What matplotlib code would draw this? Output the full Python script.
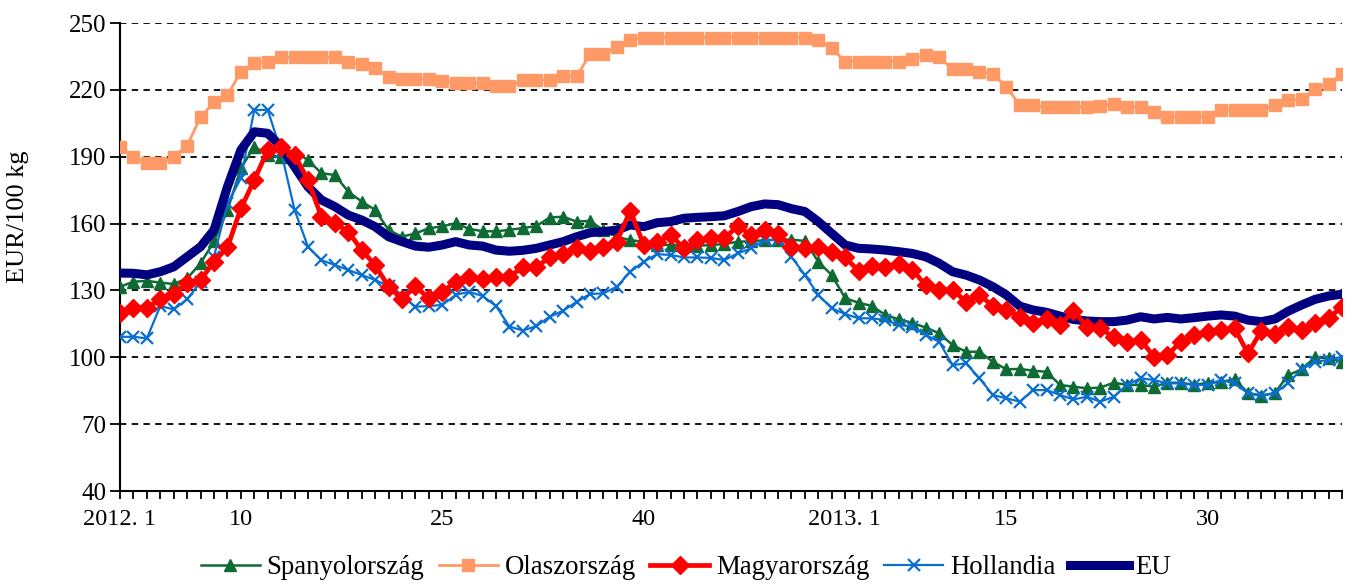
import numpy as np
import matplotlib.pyplot as plt
from matplotlib.transforms import ScaledTranslation

# weekly prices, 2012 week 1 .. 2013 week 40 (92 weeks)
weeks = list(range(1, 53)) + list(range(1, 41))
tick_pos = [0, 9, 24, 39, 52, 66, 81]
tick_labels = ['2012. 1', '10', '25', '40', '2013. 1', '15', '30']

spanyol = [131.7, 133.9, 134.3, 133.5, 132.9, 135.4, 142.2, 152.0, 166.0, 184.8,
           194.5, 190.8, 190.0, 192.3, 188.5, 182.6, 181.8, 174.3, 169.9, 166.1,
           157.1, 154.1, 155.6, 157.9, 158.8, 160.1, 157.6, 156.6, 156.5, 157.2,
           158.0, 158.9, 162.7, 163.1, 160.9, 161.2, 157.0, 154.0, 152.6, 151.8,
           150.5, 150.4, 150.0, 150.0, 150.4, 150.8, 151.9, 152.0, 152.6, 152.8,
           152.8, 152.2, 142.9, 136.9, 126.5, 124.5, 123.0, 119.0, 117.0, 115.5,
           113.3, 110.8, 105.5, 102.5, 102.5, 98.0, 94.6, 94.8, 94.0, 93.5,
           87.6, 86.8, 86.1, 86.4, 88.6, 87.6, 87.6, 86.8, 88.6, 88.6,
           87.6, 88.6, 89.0, 90.1, 84.1, 82.6, 84.1, 92.0, 94.6, 100.0,
           99.6, 98.0]

olasz = [194.4, 190.0, 187.0, 187.0, 190.0, 195.0, 207.8, 214.4, 217.7, 228.0,
         232.0, 232.7, 234.6, 234.6, 234.6, 234.6, 234.6, 232.3, 231.4, 229.9,
         225.9, 224.9, 224.9, 224.9, 224.0, 223.0, 223.0, 223.0, 221.7, 221.6,
         224.4, 224.4, 224.4, 226.0, 226.0, 236.0, 236.0, 239.4, 242.4, 243.4,
         243.4, 243.4, 243.4, 243.4, 243.4, 243.4, 243.4, 243.4, 243.4, 243.4,
         243.4, 243.4, 242.4, 238.6, 232.7, 232.7, 232.7, 232.7, 232.7, 234.0,
         235.6, 234.9, 229.2, 229.2, 228.2, 227.1, 221.4, 213.2, 213.2, 212.2,
         212.2, 212.5, 212.5, 212.9, 213.5, 212.2, 212.2, 210.2, 208.0, 208.0,
         208.0, 208.0, 211.0, 211.0, 211.0, 211.0, 213.2, 215.3, 215.8, 220.6,
         222.8, 227.1]

magyar = [120.0, 122.3, 122.3, 126.0, 128.4, 133.2, 134.7, 142.9, 149.3, 166.8,
          179.5, 193.0, 194.5, 190.8, 179.5, 163.1, 160.1, 156.4, 148.1, 141.4,
          131.7, 126.2, 131.8, 126.5, 129.4, 133.9, 136.2, 135.1, 136.2, 136.2,
          140.6, 140.3, 145.1, 146.3, 148.9, 147.9, 149.6, 151.9, 165.8, 150.4,
          151.9, 154.9, 148.9, 152.6, 153.4, 153.4, 158.9, 154.9, 157.1, 155.3,
          149.6, 148.9, 149.6, 147.4, 144.8, 138.8, 140.9, 140.3, 141.9, 139.2,
          132.4, 130.2, 130.4, 124.9, 128.0, 123.0, 121.2, 118.2, 115.3, 117.0,
          114.5, 120.9, 113.8, 113.0, 109.0, 107.0, 107.8, 100.3, 101.0, 107.0,
          110.0, 111.5, 112.2, 113.0, 101.8, 112.0, 110.4, 113.8, 112.2, 115.3,
          117.5, 122.7]

holland = [109.2, 109.2, 108.5, 123.0, 121.5, 126.0, 133.9, 145.2, 169.1, 180.3,
           211.0, 211.0, 192.3, 166.1, 149.6, 143.6, 141.4, 139.2, 136.9, 134.7,
           132.0, 127.5, 122.7, 123.0, 123.5, 128.0, 129.4, 127.5, 123.0, 113.8,
           112.0, 114.0, 118.2, 120.9, 124.9, 128.4, 128.7, 131.7, 138.4, 142.9,
           146.3, 145.9, 144.8, 144.8, 144.6, 143.6, 146.6, 148.9, 152.6, 152.6,
           145.1, 136.9, 128.0, 122.0, 119.4, 117.5, 117.5, 116.7, 114.5, 113.8,
           110.0, 107.0, 96.5, 97.3, 90.6, 83.1, 81.6, 80.1, 85.3, 85.3,
           83.1, 81.1, 82.3, 80.1, 82.3, 87.6, 90.6, 89.8, 88.3, 88.3,
           87.6, 87.6, 89.8, 88.3, 83.8, 83.1, 83.8, 88.6, 94.6, 98.0,
           98.8, 100.3]

eu = [137.8, 137.7, 137.0, 138.4, 140.6, 145.1, 149.6, 157.1, 176.5, 193.0,
      201.2, 200.5, 194.5, 185.5, 176.5, 170.6, 167.6, 163.8, 161.6, 158.6,
      154.1, 151.9, 149.9, 149.4, 150.4, 151.9, 150.4, 149.9, 148.1, 147.6,
      148.0, 148.9, 150.4, 151.9, 154.1, 155.9, 156.4, 157.1, 159.4, 158.6,
      160.4, 160.9, 162.4, 162.8, 163.1, 163.5, 165.4, 167.6, 168.8, 168.5,
      166.7, 165.4, 160.9, 155.6, 150.4, 148.9, 148.6, 148.1, 147.4, 146.6,
      145.1, 142.2, 138.4, 136.9, 134.7, 131.7, 128.0, 123.0, 121.2, 120.2,
      118.5, 117.0, 116.3, 116.0, 116.0, 116.7, 118.2, 117.2, 117.9, 117.2,
      117.8, 118.5, 119.0, 118.5, 116.7, 116.0, 117.2, 120.7, 123.5, 126.0,
      127.5, 128.3]

plt.rcParams['font.family'] = ['Liberation Serif', 'DejaVu Serif']

fig = plt.figure(figsize=(13.59, 5.84), dpi=100)
ax = fig.add_axes([0.0883, 0.1592, 0.8992, 0.8014])

x = np.arange(len(weeks))

ax.plot(x, spanyol, color='#0E6B34', linewidth=1.8, marker='^', markersize=9,
        label='Spanyolország', zorder=3)
ax.plot(x, olasz, color='#FF9966', linewidth=2, marker='s', markersize=9,
        label='Olaszország', zorder=3)
ax.plot(x, magyar, color='#FF0000', linewidth=3.4, marker='D', markersize=9,
        label='Magyarország', zorder=6)
ax.plot(x, holland, color='#0A6FD0', linewidth=1.6, marker='x', markersize=9,
        markeredgewidth=1.6, label='Hollandia', zorder=4)
ax.plot(x, eu, color='#000080', linewidth=6.5, label='EU', zorder=5)

ax.set_xlim(0, len(weeks) - 1)
ax.set_ylim(40, 250)
ax.set_yticks(range(40, 251, 30))

# gridlines
ax.yaxis.grid(True, color='black', linestyle=(0, (3.5, 3)), linewidth=1.3)
ax.set_axisbelow(True)

ax.set_xticks(x, minor=True)
ax.set_xticks(tick_pos)
ax.set_xticklabels(tick_labels)
ax.tick_params(axis='x', which='both', direction='out', length=6, width=1.3, pad=7, labelsize=17.5)
ax.tick_params(axis='y', direction='out', length=7, width=1.3, pad=3, labelsize=18)

# the 2013 label sits a bit right of its tick in the original
for lbl in ax.get_xticklabels():
    if lbl.get_text().startswith('2013'):
        lbl.set_transform(lbl.get_transform() + ScaledTranslation(0.26, 0, fig.dpi_scale_trans))

for side in ['top', 'right']:
    ax.spines[side].set_visible(False)
for side in ['left', 'bottom']:
    ax.spines[side].set_linewidth(1.5)

ax.set_ylabel('EUR/100 kg', fontsize=19)
ax.yaxis.set_label_coords(-0.0745, 0.585)

fig.legend(loc='center', bbox_to_anchor=(686 / 1359, 0.028), ncol=5, frameon=False,
           fontsize=19.3, handlelength=2.2, handletextpad=0.25, columnspacing=0.55)

fig.savefig('out.png', dpi=100)
